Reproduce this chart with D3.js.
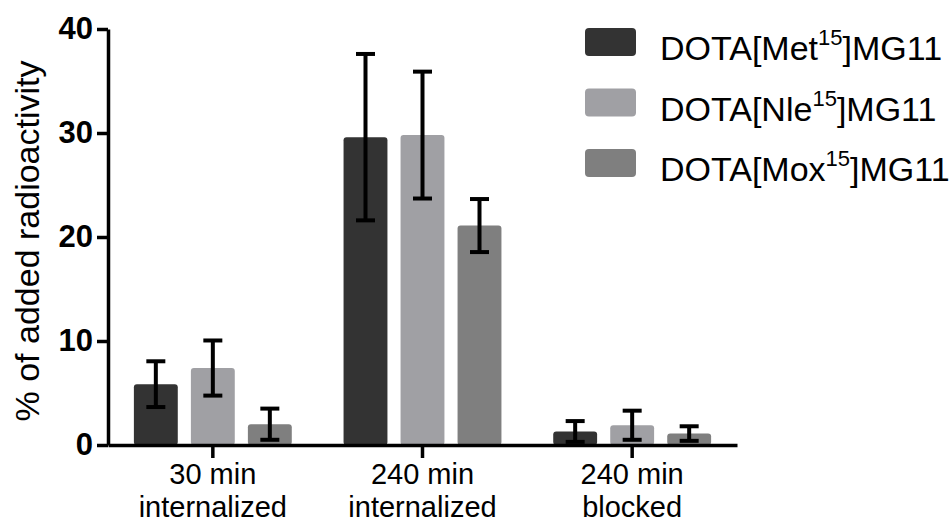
<!DOCTYPE html>
<html>
<head>
<meta charset="utf-8">
<script src="https://cdn.jsdelivr.net/npm/d3@7"></script>
<style>
  body { margin: 0; background: #fff; }
  svg { display: block; font-family: "Liberation Sans", Arial, sans-serif; }
</style>
</head>
<body>
<div id="chart"></div>
<script>
// values
const groups = ["30 min|internalized", "240 min|internalized", "240 min|blocked"];
const series = ["Met", "Nle", "Mox"];
const colors = ["#333333", "#a0a0a4", "#7f7f7f"];
const means = {
    Met: [5.85, 29.6, 1.3],
    Nle: [7.4, 29.8, 1.9],
    Mox: [2.0, 21.1, 1.1]
};
const sds = {
    Met: [2.2, 8.0, 1.0],
    Nle: [2.65, 6.1, 1.4],
    Mox: [1.5, 2.55, 0.7]
};
const yTicks = [0, 10, 20, 30, 40];

const width = 951, height = 523;
const mLeft = 108, mRight = 737, mTop = 29, mBottom = 445;

const svg = d3.select("#chart").append("svg")
    .attr("width", width)
    .attr("height", height);

const x0 = d3.scaleBand().domain(groups).range([mLeft, mRight]).padding(0);
const x1 = d3.scaleBand().domain(series).range([-85.5, 85.5])
    .paddingInner(0.23).paddingOuter(0.115);
const y = d3.scaleLinear().domain([0, 40]).range([mBottom, mTop]);
const color = d3.scaleOrdinal().domain(series).range(colors);

// flatten to one record per bar
const bars = [];
groups.forEach((g, i) => {
    series.forEach(s => bars.push({ g, s, v: means[s][i], e: sds[s][i] }));
});

const cx = d => x0(d.g) + x0.bandwidth() / 2;

svg.append("g")
    .selectAll("rect")
    .data(bars)
    .join("rect")
    .attr("x", d => cx(d) + x1(d.s))
    .attr("y", d => y(d.v))
    .attr("width", x1.bandwidth())
    .attr("height", d => y(0) - y(d.v))
    .attr("rx", 3)
    .attr("fill", d => color(d.s));

// error bars
const err = svg.append("g")
    .attr("stroke", "#000")
    .attr("stroke-width", 4)
    .selectAll("g")
    .data(bars)
    .join("g")
    .attr("transform", d => `translate(${cx(d) + x1(d.s) + x1.bandwidth() / 2},0)`);

err.append("line")
    .attr("y1", d => y(d.v + d.e))
    .attr("y2", d => y(Math.max(0, d.v - d.e)));
err.append("line")
    .attr("x1", -9.5).attr("x2", 9.5)
    .attr("y1", d => y(d.v + d.e)).attr("y2", d => y(d.v + d.e));
err.append("line")
    .attr("x1", -9.5).attr("x2", 9.5)
    .attr("y1", d => y(Math.max(0, d.v - d.e))).attr("y2", d => y(Math.max(0, d.v - d.e)));

// y axis
const yAxis = svg.append("g")
    .attr("transform", `translate(${mLeft},0)`)
    .call(d3.axisLeft(y).tickValues(yTicks).tickSize(11).tickPadding(4).tickSizeOuter(0));
yAxis.select(".domain").attr("stroke", "#000").attr("stroke-width", 3.5);
yAxis.selectAll(".tick line").attr("stroke-width", 3.5);
yAxis.selectAll(".tick text")
    .attr("font-size", 31)
    .attr("font-weight", "bold")
    .attr("fill", "#000")
    .attr("font-family", "'Liberation Sans', Arial, sans-serif");

// x axis
const xAxis = svg.append("g")
    .attr("transform", `translate(0,${mBottom})`)
    .call(d3.axisBottom(x0).tickSize(13).tickSizeOuter(0).tickFormat(""));
xAxis.select(".domain").attr("stroke", "#000").attr("stroke-width", 3.5);
xAxis.selectAll(".tick line").attr("stroke-width", 3.5);

const xl = svg.append("g")
    .attr("font-size", 29)
    .attr("text-anchor", "middle")
    .selectAll("text")
    .data(groups)
    .join("text")
    .attr("x", g => x0(g) + x0.bandwidth() / 2)
    .attr("y", 484);
xl.selectAll("tspan")
    .data(g => g.split("|"))
    .join("tspan")
    .attr("x", function () { return this.parentNode.getAttribute("x"); })
    .attr("dy", (d, i) => i ? 33 : 0)
    .text(d => d);

// y axis title
svg.append("text")
    .attr("transform", `translate(39,${(mTop + mBottom) / 2 + 4}) rotate(-90)`)
    .attr("text-anchor", "middle")
    .attr("font-size", 34)
    .text("% of added radioactivity");

// legend
const legend = svg.append("g")
    .selectAll("g")
    .data(series)
    .join("g")
    .attr("transform", (d, i) => `translate(585,${28 + i * 60.5})`);
legend.append("rect")
    .attr("width", 51)
    .attr("height", 28)
    .attr("rx", 4)
    .attr("fill", d => color(d));
const lt = legend.append("text")
    .attr("x", 75)
    .attr("y", 32)
    .attr("font-size", 34);
lt.append("tspan").text(d => `DOTA[${d}`);
lt.append("tspan").attr("font-size", 22).attr("dy", -15).text("15");
lt.append("tspan").attr("dy", 15).text("]MG11");
</script>
</body>
</html>
